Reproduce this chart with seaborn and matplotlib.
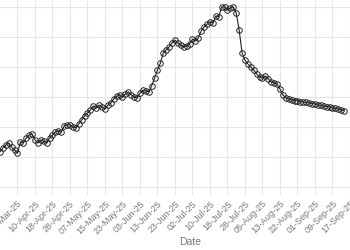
import matplotlib
matplotlib.use("Agg")
import matplotlib.pyplot as plt
import seaborn as sns
import pandas as pd

# Series values (one point per trading session)
values = [
    51.7, 53.0, 54.0, 54.7, 53.3, 52.3, 51.3, 55.0, 54.7, 56.3,
    57.3, 57.7, 55.7, 54.7, 55.7, 55.3, 54.7, 56.3, 57.3, 58.3,
    58.7, 58.3, 60.3, 60.7, 60.7, 60.0, 59.7, 61.0, 62.3, 63.7,
    64.7, 65.7, 67.0, 66.3, 67.3, 66.7, 66.0, 67.3, 68.0, 69.3,
    70.3, 70.7, 70.0, 71.0, 71.7, 70.7, 70.0, 69.7, 71.3, 72.3,
    72.0, 71.7, 73.7, 76.3, 79.0, 81.3, 84.7, 85.7, 86.7, 88.0,
    89.0, 88.0, 87.3, 86.7, 87.0, 87.7, 89.3, 88.7, 89.7, 92.0,
    93.3, 94.3, 95.0, 94.7, 97.0, 96.7, 100.0, 100.0, 99.0, 99.7,
    100.0, 98.0, 92.3, 84.7, 82.3, 81.0, 80.0, 79.0, 77.7, 76.7,
    76.3, 77.0, 76.0, 75.0, 74.7, 74.3, 72.7, 70.7, 69.7, 69.3,
    69.0, 68.8, 68.7, 68.5, 68.3, 68.2, 68.0, 67.8, 67.7, 67.3,
    67.2, 67.0, 66.8, 66.7, 66.3, 66.2, 66.0, 65.7, 65.5,
]

# Tick labels (every 6th session)
tick_labels = [
    "31-Mar-25", "10-Apr-25", "18-Apr-25", "28-Apr-25", "07-May-25",
    "15-May-25", "23-May-25", "03-Jun-25", "13-Jun-25", "23-Jun-25",
    "02-Jul-25", "10-Jul-25", "18-Jul-25", "28-Jul-25", "05-Aug-25",
    "13-Aug-25", "22-Aug-25", "01-Sep-25", "09-Sep-25", "17-Sep-25",
]
tick_positions = [6 + 6 * k for k in range(len(tick_labels))]
y_ticks = [40, 50, 60, 70, 80, 90, 100]

df = pd.DataFrame({"session": list(range(len(values))), "value": values})

sns.set_style("whitegrid")
plt.rcParams["font.family"] = ["Liberation Sans", "DejaVu Sans"]

fig = plt.figure(figsize=(3.5, 2.5), dpi=100)
ax = fig.add_axes([0.0, 0.22, 1.0, 0.78])

sns.lineplot(
    data=df, x="session", y="value", ax=ax,
    color="#222222", linewidth=0.8,
    marker="o", markersize=4.0, markerfacecolor="none",
    markeredgecolor="#222222", markeredgewidth=0.7,
)

ax.set_xlim(0.016, 0.016 + 350 / 3.008)
ax.set_ylim(40 - 8 / 3, 40 - 8 / 3 + 65)
ax.set_yticks(y_ticks)
ax.set_xticks(tick_positions)
ax.set_xticklabels(tick_labels, rotation=45, ha="right",
                   rotation_mode="anchor", fontsize=6.5, color="#777777")
ax.tick_params(axis="x", length=0, pad=3)
ax.tick_params(axis="y", length=0, labelleft=False)
ax.grid(True, color="#e6e6e6", linewidth=0.8)
for s in ax.spines.values():
    s.set_visible(False)
ax.set_ylabel("")
ax.set_xlabel("Date", fontsize=7.5, color="#777777")
ax.xaxis.set_label_coords(190 / 350, -0.215)

fig.savefig("out.png", dpi=100)
